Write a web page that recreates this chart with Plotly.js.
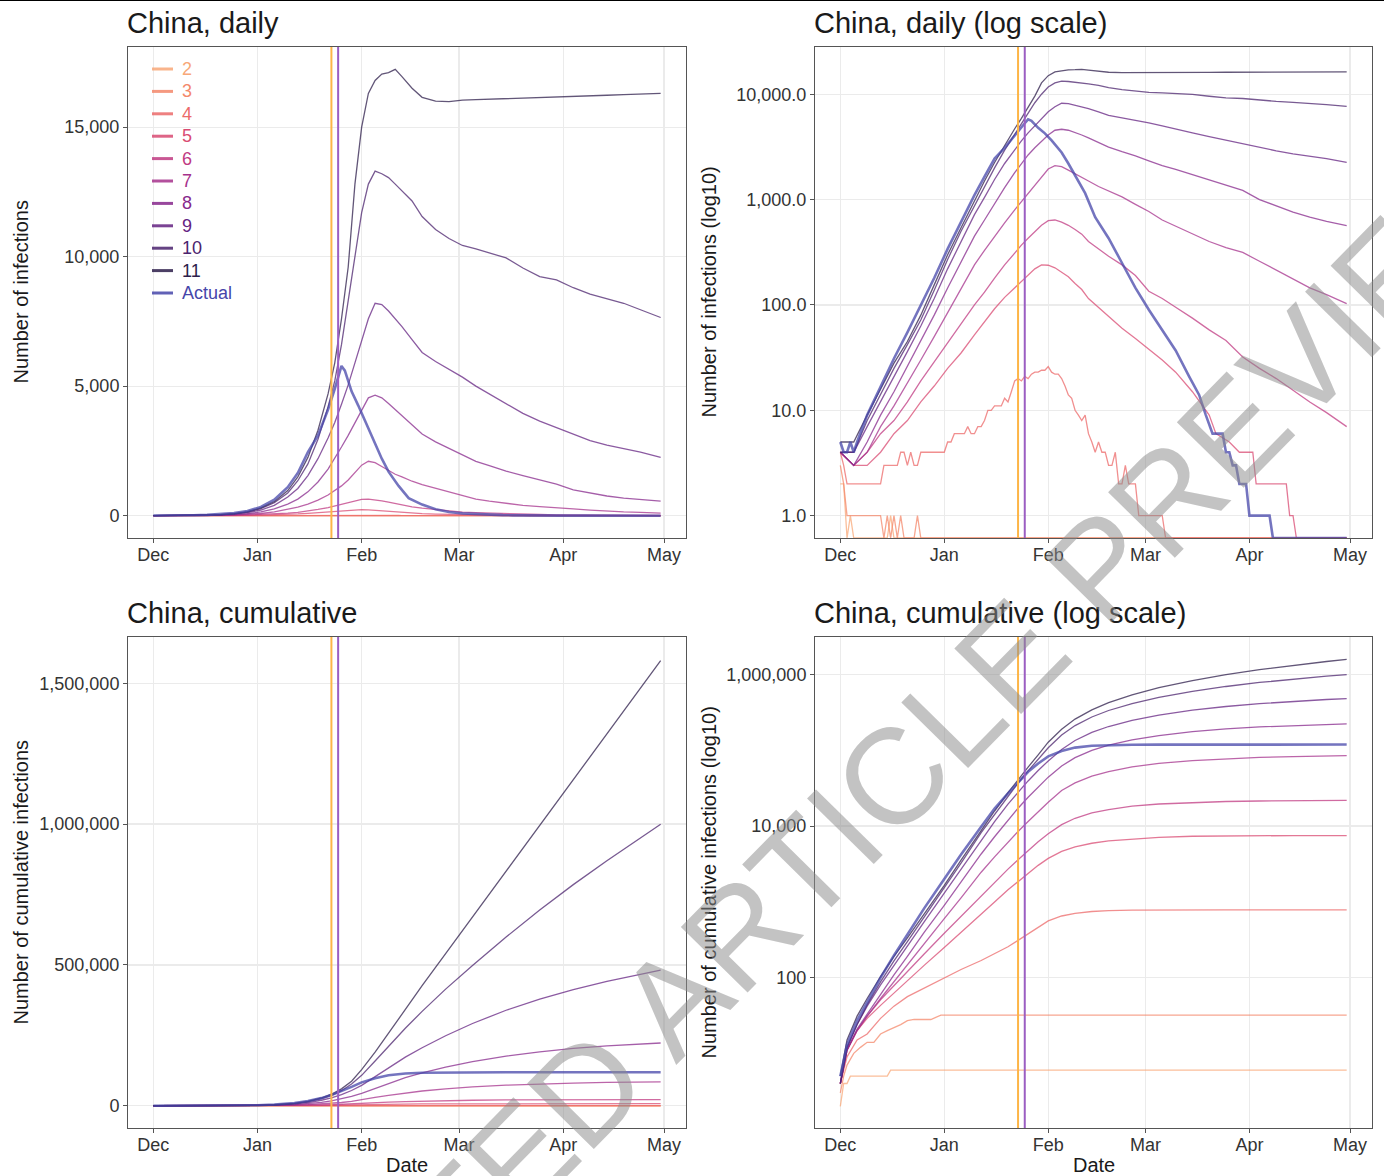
<!DOCTYPE html>
<html>
<head>
<meta charset="utf-8">
<script src="https://cdn.plot.ly/plotly-3.0.1.min.js"></script>
<style>html,body{margin:0;padding:0;background:#fff;}#chart{width:1384px;height:1176px;}</style>
</head>
<body>
<div id="chart"></div>
<script>
// ---------------- DATA ----------------
// x values are day offsets from 2019-12-01
const seriesNames = ['2','3','4','5','6','7','8','9','10','11','Actual'];
const seriesColors = ['#F8A878','#F4886B','#EC6A6A','#D94B73','#C03A82','#A6328C','#87288C','#642382','#4B236E','#2D1E4B','#4646AA'];

// Daily infections
const daysDaily2 = [0,1,2,3,4,14,15,16,151];
const daily2     = [2,2,0,1,0,0,1,0,0];
const daysDaily3 = [0,1,2,12,13,14,15,16,17,18,19,22,23,24,151];
const daily3     = [3,2,1,1,0,1,0,1,0,1,0,0,1,0,0];
const daysDaily4 = [0,1,2,12,13,17,18,19,20,21,22,23,24,31,32,33,34,37,38,39,40,41,42,43,44,45,46,48,49,50,
  51,52,53,54,55,56,57,58,59,60,61,62,63,64,65,66,67,68,69,70,71,72,73,74,75,76,77,78,79,80,81,82,83,84,85,86,88,89,96,97,151];
const daily4     = [4,3,2,2,3,3,4,4,3,4,3,3,4,4,5,5,6,6,7,6,6,7,7,8,10,10,11,11,13,12,
  15,19,20,19,21,20,22,23,23,24,24,26,23,22,22,20,17,14,13,10,9,8,9,6,5,4,5,4,4,3,3,4,2,2,3,2,2,1,1,0,0];
const daysDaily5 = [0,4,8,12,16,20,24,28,32,36,40,43,46,49,52,54,56,58,60,62,64,66,68,70,72,74,77,80,84,88,92,96,100,105,110,112,116,119,123,124,133,134,135,136,151];
const daily5     = [4,3,3,4,6,8,12,17,25,35,52,70,92,118,145,168,195,220,240,238,225,205,185,160,140,115,95,78,60,48,38,30,23,15,9,6,5,4,4,2,2,1,1,0,0];
const daysDaily  = [0,4,8,12,16,20,24,28,32,36,40,43,46,49,52,54,56,58,60,62,64,66,68,70,72,74,77,80,84,88,92,96,100,105,110,115,120,125,130,135,140,145,151];
const daily6  = [4,3,4,6,8,12,19,29,44,66,100,132,180,240,310,370,430,500,570,630,640,610,570,520,470,400,340,290,240,190,135,115,95,75,58,46,32,25,20,15.5,12,9.5,7];
const daily7  = [4,3,4,7,11,18,30,50,85,145,240,330,450,600,800,960,1150,1380,1650,1950,2100,2050,1900,1750,1600,1500,1330,1200,1060,900,770,640,560,480,400,350,315,260,215,175,145,125,103];
const daily8  = [4,3,5,9,15,26,45,80,145,260,450,640,920,1300,1800,2200,2650,3100,3600,4100,4550,4650,4550,4330,4100,3850,3500,3150,2850,2600,2330,2100,1930,1720,1550,1380,1220,1000,870,760,680,620,565];
const daily9  = [4,4,7,12,21,36,63,115,220,400,720,1050,1550,2200,3000,3600,4300,5050,5900,6800,7600,8200,8150,7900,7600,7300,6800,6300,5950,5650,5350,5000,4700,4300,3950,3650,3400,3150,2900,2720,2580,2450,2250];
const daily10 = [4,4,8,14,25,42,72,138,270,500,880,1350,2000,2950,4200,5200,6600,8300,10000,11700,12800,13300,13200,13050,12800,12550,12150,11550,11050,10700,10430,10300,10150,9950,9560,9230,9100,8800,8550,8380,8200,7950,7650];
const daily11 = [5,5,9,16,28,45,80,155,300,540,970,1500,2250,3300,4700,5900,7600,9600,12800,15000,16300,16800,17050,17100,17230,16950,16500,16150,16000,15980,16040,16060,16080,16100,16130,16150,16180,16200,16220,16230,16250,16280,16300];
const daysDailyActual = [0,1,2,3,4,5,8,12,16,20,24,28,32,36,40,43,46,49,52,54,55,56,57,59,61,63,66,68,70,73,76,80,84,88,92,96,100,104,107,109,111,114,115,116,117,118,119,121,122,128,129,151];
const dailyActual     = [5,4,4,5,4,5,9,17,31,55,100,180,340,620,1100,1650,2450,3100,4100,4900,5300,5780,5600,4800,4250,3650,2800,2200,1700,1150,680,430,250,145,90,58,37,21,14,9,6,6,4,4,3,3,2,2,1,1,0,0];

// Cumulative infections
const daysCum2 = [0,1,2,3,14,15,151];
const cum2     = [2,4,4,5,5,6,6];
const daysCum3 = [0,1,2,4,6,8,10,12,14,18,20,22,27,29,30,151];
const cum3     = [3,5,7,10,12,14,14,18,20,24,27,28,28,31,32,32];
const daysCum  = [0,2,5,8,12,16,20,25,31,36,42,46,50,53,56,59,62,66,70,75,80,87,95,105,115,125,135,145,151];
const cum4  = [4,9,15,18,29,42,56,73,100,128,168,205,255,310,380,460,560,650,705,745,765,775,782,783,783,783,783,783,783];
const cum5  = [4,11,20,29,43,63,91,145,250,393,690,994,1440,1860,2385,3030,3740,4630,5320,5930,6370,6770,7100,7340,7430,7470,7485,7485,7485];
const cum6  = [4,11,20,31,51,79,119,205,385,643,1210,1790,2700,3590,4730,6190,7930,10450,12670,14900,16500,18270,19550,20500,21080,21400,21600,21730,21770];
const cum7  = [4,11,20,31,53,89,147,283,600,1130,2460,3920,6190,8470,11460,15500,20600,29500,37200,45500,52300,60200,67200,73200,77400,80500,82700,84200,85000];
const cum8  = [4,11,21,33,61,109,191,395,900,1830,4280,7220,12100,17200,24000,33000,44200,62000,80000,100000,117000,137000,156500,176000,191500,203500,212300,219200,222700];
const cum9  = [4,12,24,42,80,146,260,545,1300,2690,6650,11450,19500,28000,39400,54000,72400,102600,134800,172500,206000,248400,292000,339000,378500,412500,441800,467600,481700];
const cum10 = [4,12,24,44,88,166,298,625,1530,3250,8200,14300,25000,37000,53500,77000,108000,159000,212000,275000,335000,414000,498000,599000,695000,785000,870000,952000,999000];
const cum11 = [5,15,31,53,103,191,335,690,1650,3560,8700,15800,27500,41000,60000,87000,128000,190000,258000,342000,426000,540000,670000,833000,996000,1159000,1322000,1484000,1580000];
const cumActual = [5,13,27,48,100,196,368,820,2000,4200,9800,17000,27000,38000,52000,67000,83000,98000,108500,114500,117000,118200,118600,118800,118900,118950,118950,118950,118950];

// Axis ticks and reference dates
const monthTickVals = ['2019-12-01','2020-01-01','2020-02-01','2020-03-01','2020-04-01','2020-05-01'];
const monthTickText = ['Dec','Jan','Feb','Mar','Apr','May'];
const eventDates = ['2020-01-23','2020-01-25'];
const eventColors = ['#FDB547','#9B5EC2'];
const panelTitles = ['China, daily','China, daily (log scale)','China, cumulative','China, cumulative (log scale)'];
const yTitles = ['Number of infections', 'Number of infections (log10)', 'Number of cumulative infections', 'Number of cumulative infections (log10)'];

// ---------------- BUILD ----------------
const BASE = Date.UTC(2019, 11, 1);
const toDate = d => new Date(BASE + d * 864e5).toISOString().slice(0, 10);
const LOG_FLOOR = Math.pow(10, -0.212); // zeros (log = -Inf) sit on the panel's bottom edge

const dailyData = [
  [daysDaily2, daily2],[daysDaily3, daily3],[daysDaily4, daily4],[daysDaily5, daily5],
  [daysDaily, daily6],[daysDaily, daily7],[daysDaily, daily8],[daysDaily, daily9],
  [daysDaily, daily10],[daysDaily, daily11],[daysDailyActual, dailyActual]];
const cumData = [
  [daysCum2, cum2],[daysCum3, cum3],[daysCum, cum4],[daysCum, cum5],[daysCum, cum6],
  [daysCum, cum7],[daysCum, cum8],[daysCum, cum9],[daysCum, cum10],[daysCum, cum11],[daysCum, cumActual]];

const FONT = 'Liberation Sans, Arial, Helvetica, sans-serif';
const traces = [];
const panels = [
  {data: dailyData, xa: 'x',  ya: 'y'},
  {data: dailyData, xa: 'x2', ya: 'y2'},
  {data: cumData,   xa: 'x3', ya: 'y3'},
  {data: cumData,   xa: 'x4', ya: 'y4'}];

panels.forEach((p, pi) => {
  p.data.forEach((sd, si) => {
    const isActual = seriesNames[si] === 'Actual';
    const yv = (pi === 1) ? sd[1].map(v => v > 0 ? v : LOG_FLOOR) : sd[1];
    traces.push({
      type: 'scatter', mode: 'lines',
      x: sd[0].map(toDate), y: yv,
      xaxis: p.xa, yaxis: p.ya,
      name: seriesNames[si],
      legendgroup: seriesNames[si],
      showlegend: false,
      opacity: 0.75,
      line: {color: seriesColors[si], width: isActual ? 2.6 : 1.3},
      hoverinfo: 'skip'
    });
  });
});

const W = 1384, H = 1176;
const colX = [[128, 686], [815, 1372]];
const rowY = [[47, 538], [637, 1128]];
const dx = c => [colX[c][0] / W, colX[c][1] / W];
const dy = r => [1 - rowY[r][1] / H, 1 - rowY[r][0] / H];
const xRange = ['2019-11-23 10:48', '2020-05-07 13:12'];

function xAxis(c, r) {
  return {
    domain: dx(c), type: 'date', range: xRange,
    tickmode: 'array', tickvals: monthTickVals, ticktext: monthTickText,
    showgrid: true, gridcolor: '#EBEBEB', gridwidth: 1.2, zeroline: false,
    showline: true, mirror: true, linecolor: '#555', linewidth: 1,
    ticks: 'outside', ticklen: 4, tickcolor: '#555', tickwidth: 1,
    ticklabelstandoff: -4,
    tickfont: {family: FONT, size: 18, color: '#333'}
  };
}
function yAxis(c, r, opts) {
  return Object.assign({
    domain: dy(r),
    showgrid: true, gridcolor: '#EBEBEB', gridwidth: 1.2, zeroline: false,
    showline: true, mirror: true, linecolor: '#555', linewidth: 1,
    ticks: 'outside', ticklen: 4, tickcolor: '#555', tickwidth: 1,
    tickfont: {family: FONT, size: 18, color: '#333'}, tickmode: 'array'
  }, opts);
}

const layout = {
  width: W, height: H, autosize: false,
  margin: {l: 0, r: 0, t: 0, b: 0},
  paper_bgcolor: '#fff', plot_bgcolor: '#fff',
  font: {family: FONT, color: '#1a1a1a'},
  showlegend: false,
  xaxis:  Object.assign(xAxis(0, 0), {anchor: 'y'}),
  yaxis:  yAxis(0, 0, {anchor: 'x', range: [-861, 18092], tickvals: [0, 5000, 10000, 15000], tickformat: ','}),
  xaxis2: Object.assign(xAxis(1, 0), {anchor: 'y2'}),
  yaxis2: yAxis(1, 0, {anchor: 'x2', type: 'log', range: [-0.212, 4.448], tickvals: [1, 10, 100, 1000, 10000], tickformat: ',.1f'}),
  xaxis3: Object.assign(xAxis(0, 1), {anchor: 'y3'}),
  yaxis3: yAxis(0, 1, {anchor: 'x3', range: [-79000, 1664000], tickvals: [0, 500000, 1000000, 1500000], tickformat: ','}),
  xaxis4: Object.assign(xAxis(1, 1), {anchor: 'y4'}),
  yaxis4: yAxis(1, 1, {anchor: 'x4', type: 'log', range: [0.015, 6.495], tickvals: [100, 10000, 1000000], tickformat: ','}),
  shapes: [], annotations: []
};

// event lines
['', '2', '3', '4'].forEach(s => {
  eventDates.forEach((d, i) => {
    layout.shapes.push({type: 'line', xref: 'x' + s, yref: 'y' + s + ' domain',
      x0: d, x1: d, y0: 0, y1: 1, layer: 'above', line: {color: eventColors[i], width: 2}});
  });
});
// top black rule
layout.shapes.push({type: 'line', xref: 'paper', yref: 'paper', x0: 0, x1: 1, y0: 1, y1: 1, line: {color: '#000', width: 2}});

// legend (inside the first panel): key segments + coloured labels
const legTop = 69, legStep = 22.4;
seriesNames.forEach((n, i) => {
  const yc = 1 - (legTop + legStep * i) / H;
  layout.shapes.push({type: 'line', xref: 'paper', yref: 'paper', x0: 152 / W, x1: 173 / W, y0: yc, y1: yc,
    opacity: 0.85, line: {color: seriesColors[i], width: 3}});
  layout.annotations.push({text: n, xref: 'paper', yref: 'paper', x: 180 / W, y: yc, xanchor: 'left', yanchor: 'middle',
    showarrow: false, font: {family: FONT, size: 18, color: seriesColors[i]}});
});

// panel titles
panelTitles.forEach((t, i) => {
  const c = i % 2, r = Math.floor(i / 2);
  layout.annotations.push({text: t, xref: 'paper', yref: 'paper', x: (colX[c][0] - 3) / W, y: 1 - (rowY[r][0] - 6) / H,
    xanchor: 'left', yanchor: 'bottom', showarrow: false, font: {family: FONT, size: 29, color: '#1a1a1a'}});
});
// axis titles
const yTitleX = [20, 708];
yTitles.forEach((t, i) => {
  const c = i % 2, r = Math.floor(i / 2);
  layout.annotations.push({text: t, xref: 'paper', yref: 'paper', x: yTitleX[c] / W, y: 1 - (rowY[r][0] + rowY[r][1]) / 2 / H,
    textangle: -90, xanchor: 'center', yanchor: 'middle', showarrow: false, font: {family: FONT, size: 20, color: '#1a1a1a'}});
});
[0, 1].forEach(c => {
  layout.annotations.push({text: 'Date', xref: 'paper', yref: 'paper', x: (colX[c][0] + colX[c][1]) / 2 / W, y: 1 - 1165 / H,
    xanchor: 'center', yanchor: 'middle', showarrow: false, font: {family: FONT, size: 20, color: '#1a1a1a'}});
});
// watermark (runs off the page, as in the reference)
layout.annotations.push({text: 'ACCEPTED ARTICLE PREVIEW', xref: 'paper', yref: 'paper', x: 806 / W, y: 1 - 866 / H,
  xanchor: 'center', yanchor: 'middle', textangle: -45.5, showarrow: false,
  font: {family: FONT, size: 136, color: 'rgba(140,140,140,0.52)'}});

Plotly.newPlot('chart', traces, layout, {staticPlot: true, displayModeBar: false});
</script>
</body>
</html>
